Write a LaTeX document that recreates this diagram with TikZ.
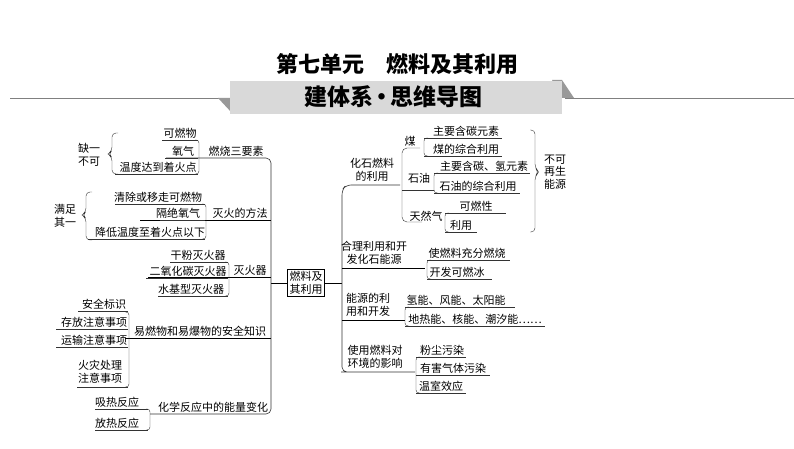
\documentclass[tikz,border=0pt]{standalone}
\usepackage{fontspec}
\newfontfamily\cjk{Noto Sans CJK SC}
\setmainfont{Noto Sans CJK SC}
\tikzset{
  txt/.style={font=\fontsize{11}{12.5}\selectfont,inner sep=0pt},
  uline/.style={thin,black!80},
  bkt/.style={thin,black!80,rounded corners=3pt},
  tree/.style={semithick,black!80,rounded corners=5pt}}
% item with underline: \itm{name}{x}{y}{text}{x0}{x1}
\newcommand\itm[6]{\node[txt] (#1) at (#2,#3) {#4};
  \draw[uline] (#5,#3+7.5) -- (#6,#3+7.5);}
% right bracket of items
\newcommand\rbk[3]{\draw[bkt] (#1-4,#2) -- (#1,#2) -- (#1,#3) -- (#1-4,#3);}
\newcommand\lbk[3]{\draw[bkt] (#1+4,#2) -- (#1,#2) -- (#1,#3) -- (#1+4,#3);}
\begin{document}
\begin{tikzpicture}[x=1pt,y=-1pt]
  \useasboundingbox (0,0) rectangle (794,449);

  % TITLE
  \node[font=\fontsize{22}{24}\selectfont\bfseries] (title) at (397,64) {第七单元\quad 燃料及其利用};
  \draw[gray,thick] (10,98) -- (232,98);
  \draw[gray,thick] (565,98) -- (794,98);
  \fill[gray!80] (218,98) -- (232,98) -- (232,113) -- cycle;
  \fill[gray!80] (552,80) -- (562,80) -- (574,98) -- (562,98) -- cycle;
  \fill[gray!30] (230,81) rectangle (562,114);
  \node[font=\fontsize{23}{25}\selectfont\bfseries] (banner) at (393,97) {建体系{\kern-3pt}·{\kern-3pt}思维导图};

  % CENTER
  \node[draw,semithick,txt,inner sep=2pt,align=center] (C) at (306,283) {燃料及\\其利用};
  \draw[semithick] (C.west) -- (271,283);
  \draw[semithick] (C.east) -- (342,283);

  % LEFT TREE
  \draw[tree] (166,158) -- (271,158) -- (271,414) -- (150,414);
  \node[txt] (b1) at (236,151) {燃烧三要素};
  \itm{a1}{180}{133}{可燃物}{162}{198}
  \itm{a2}{183}{151}{氧气}{165}{198}
  \itm{a3}{158}{167}{温度达到着火点}{115}{198}
  \rbk{199}{140}{174}
  \node[txt,align=center] (q1) at (89,155) {缺一\\不可};
  \draw[bkt,rounded corners=4pt] (118,133) -- (112,133) -- (112,151) -- (108,154) -- (112,157) -- (112,174) -- (118,174);

  \node[txt] (b2) at (240,213) {灭火的方法};
  \draw[semithick] (140,220) -- (271,220);
  \itm{m1}{158}{197}{清除或移走可燃物}{115}{205}
  \itm{m2}{178}{213}{隔绝氧气}{160}{205}
  \itm{m3}{150}{232}{降低温度至着火点以下}{88}{205}
  \rbk{206}{204}{239}
  \node[txt,align=center] (q2) at (65,216) {满足\\其一};
  \draw[bkt,rounded corners=4pt] (92,192) -- (86,192) -- (86,212) -- (82,215) -- (86,218) -- (86,240) -- (92,240);

  \node[txt] (b3) at (250,270) {灭火器};
  \draw[semithick] (148,277) -- (271,277);
  \itm{f1}{198}{255}{干粉灭火器}{170}{228}
  \itm{f2}{188}{271}{二氧化碳灭火器}{146}{228}
  \itm{f3}{191}{289}{水基型灭火器}{158}{228}
  \rbk{229}{262}{296}

  \node[txt] (b4) at (200,331) {易燃物和易爆物的安全知识};
  \draw[semithick] (125,338) -- (271,338);
  \itm{s1}{104}{304}{安全标识}{78}{128}
  \itm{s2}{94}{322}{存放注意事项}{56}{128}
  \itm{s3}{94}{340}{运输注意事项}{56}{128}
  \node[txt,align=center] (s4) at (100,372) {火灾处理\\注意事项};
  \draw[uline] (77,387) -- (128,387);
  \rbk{129}{312}{387}

  \node[txt] (b5) at (213,407) {化学反应中的能量变化};
  \itm{e1}{117}{402}{吸热反应}{95}{148}
  \itm{e2}{117}{423}{放热反应}{95}{148}
  \rbk{150}{409}{430}

  % RIGHT TREE
  \draw[tree] (400,185) -- (346,185) -- (342,190) -- (342,372) -- (346,372) -- (415,372);
  \draw[semithick] (342,268) -- (425,268);
  \draw[semithick] (342,320) -- (405,320);
  \node[txt,align=center] (r1) at (372,170) {化石燃料\\的利用};
  \node[txt,align=center] (r2) at (374,253) {合理利用和开\\发化石能源};
  \node[txt,align=center] (r3) at (368,305) {能源的利\\用和开发};
  \node[txt,align=center] (r4) at (375,357) {使用燃料对\\环境的影响};

  % fossil fuels
  \draw[bkt,rounded corners=5pt] (420,148) -- (402,148) -- (402,222) -- (422,222);
  \draw[thin,black!80] (402,190) -- (434,190);
  \node[txt] (c1) at (410,141) {煤};
  \itm{c11}{466}{131}{主要含碳元素}{424}{502}
  \itm{c12}{466}{149}{煤的综合利用}{424}{502}
  \lbk{424}{138}{156}
  \node[txt] (c2) at (419,178) {石油};
  \itm{c21}{484}{166}{主要含碳、氢元素}{434}{530}
  \itm{c22}{478}{186}{石油的综合利用}{434}{520}
  \lbk{434}{173}{193}
  \node[txt] (c3) at (426,216) {天然气};
  \itm{c31}{476}{206}{可燃性}{445}{506}
  \itm{c32}{461}{225}{利用}{445}{477}
  \lbk{445}{213}{232}
  \draw[bkt,rounded corners=4pt] (530,130) -- (535,130) -- (535,168) -- (539,172) -- (535,176) -- (535,232) -- (530,232);
  \node[txt,align=center] (nr) at (555,172) {不可\\再生\\能源};

  % rational use
  \itm{u1}{467}{253}{使燃料充分燃烧}{427}{510}
  \itm{u2}{457}{272}{开发可燃冰}{427}{492}
  \lbk{427}{260}{279}

  % new energy
  \itm{n1}{456}{300}{氢能、风能、太阳能}{405}{515}
  \itm{n2}{475}{319}{地热能、核能、潮汐能……}{405}{545}
  \lbk{405}{307}{326}

  % environment
  \itm{v1}{442}{350}{粉尘污染}{416}{466}
  \itm{v2}{453}{368}{有害气体污染}{416}{490}
  \itm{v3}{441}{386}{温室效应}{416}{466}
  \lbk{416}{357}{393}
\end{tikzpicture}
\end{document}
